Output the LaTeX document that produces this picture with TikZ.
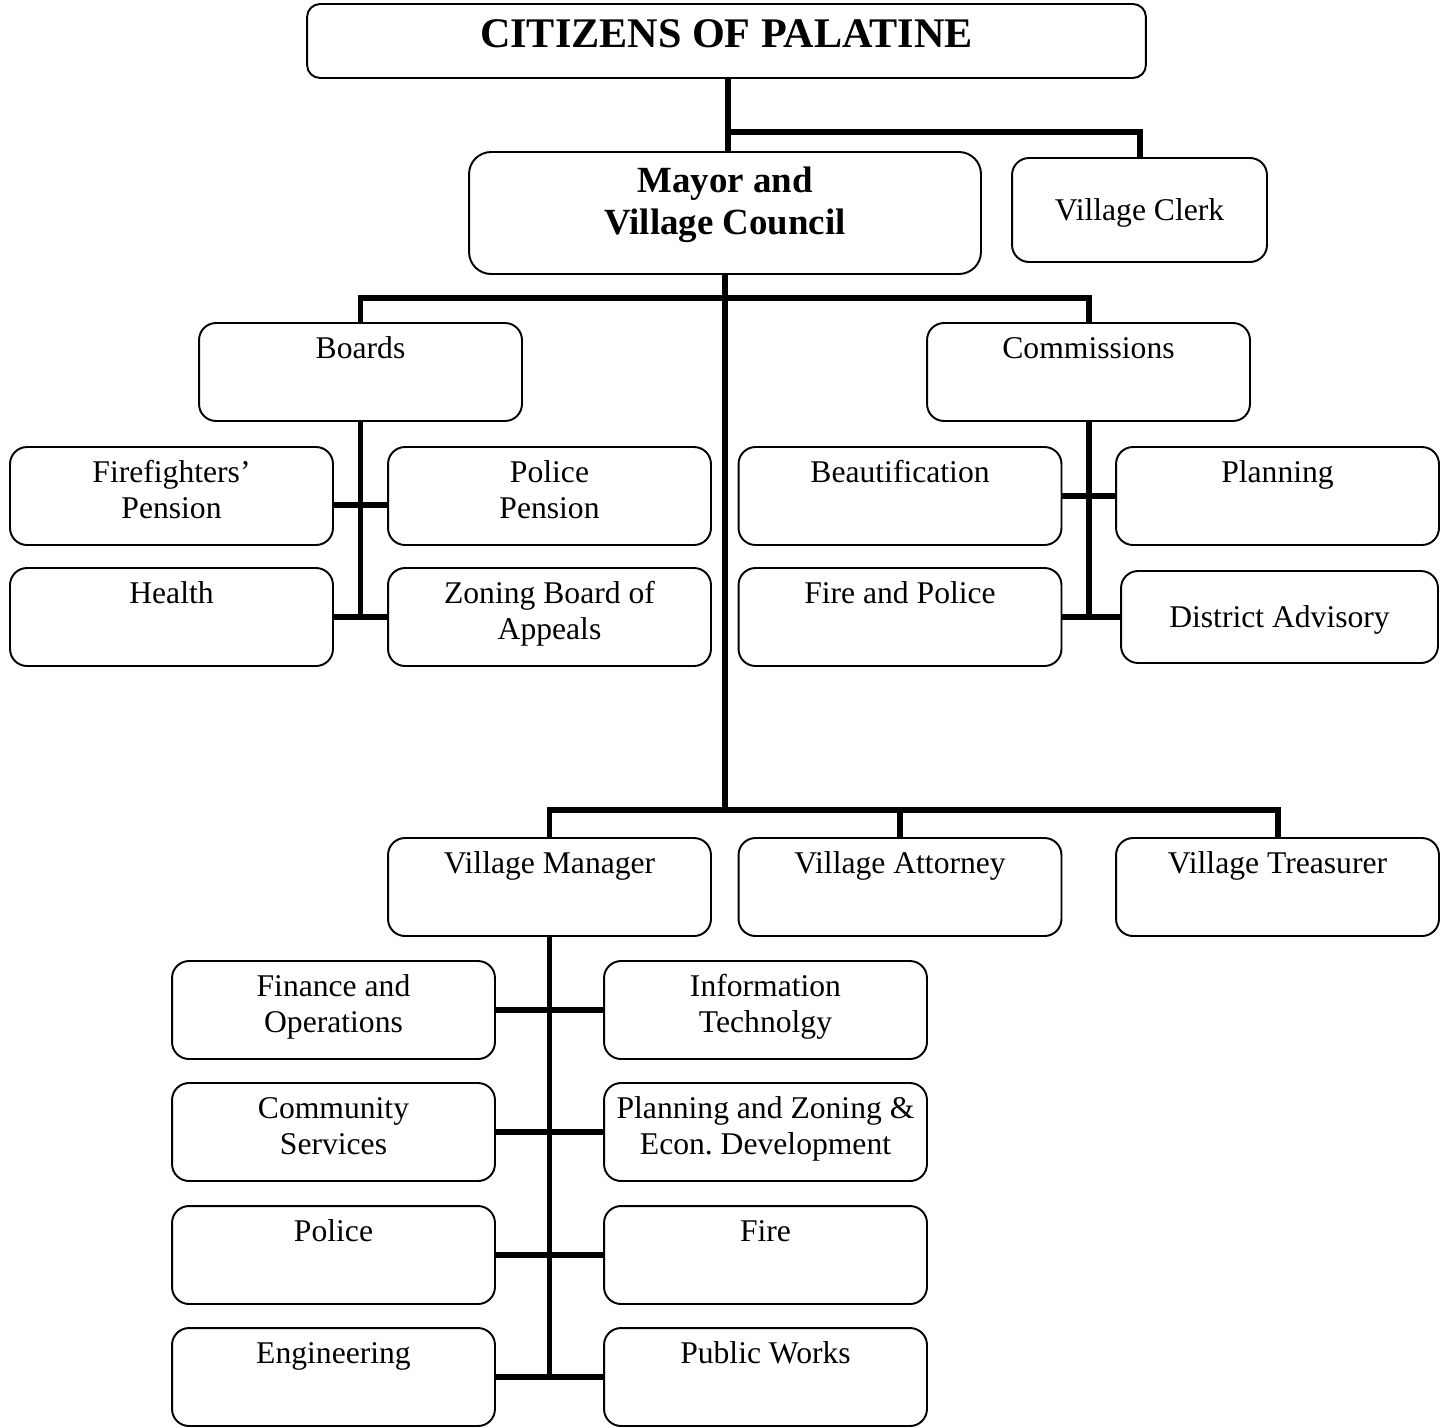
\documentclass[tikz,border=0pt]{standalone}
\usepackage{fontspec}
\setmainfont{Liberation Serif}
\usetikzlibrary{calc}

% text hung from the top of a standard box
\newcommand{\toptxt}[1]{\parbox[c][1.54cm][t]{6.3cm}{\centering\strut #1}}

\begin{document}
\begin{tikzpicture}[x=0.02cm,y=-0.02cm]
    \tikzset{%
      unit/.style={draw, rounded corners=0.34cm, line width=1.1pt,
        inner sep=0pt, minimum width=6.46cm, minimum height=1.96cm,
        font=\fontsize{18}{20.5}\selectfont},
      link/.style={line width=3.4pt},
    }
    \useasboundingbox (0,0) rectangle (1442,1427);

    % top of the chart
    \node[unit, rounded corners=0.26cm, minimum width=16.78cm, minimum height=1.48cm,
      font=\bfseries\fontsize{24}{28}\selectfont, text depth=0.28cm]
      (citizens) at (726.5,41) {CITIZENS OF PALATINE};
    \node[unit, rounded corners=0.44cm, minimum width=10.24cm, minimum height=2.44cm,
      font=\bfseries\fontsize{21}{23.8}\selectfont]
      (mayor) at (725,213) {\parbox[c][1.98cm][t]{9.8cm}{\centering\strut Mayor and\\Village Council}};
    \node[unit, minimum width=5.1cm, minimum height=2.08cm, text depth=0pt] (clerk) at (1139.5,210) {Village Clerk};

    % boards
    \node[unit] (boards) at (360.5,372) {\toptxt{Boards}};
    \node[unit] (ffpension) at (171.5,496) {\toptxt{Firefighters'\\Pension}};
    \node[unit] (ppension) at (549.5,496) {\toptxt{Police\\Pension}};
    \node[unit] (health) at (171.5,617) {\toptxt{Health}};
    \node[unit] (zba) at (549.5,617) {\toptxt{Zoning Board of\\Appeals}};

    % commissions
    \node[unit] (comm) at (1088.5,372) {\toptxt{Commissions}};
    \node[unit] (beaut) at (900,496) {\toptxt{Beautification}};
    \node[unit] (planning) at (1277.5,496) {\toptxt{Planning}};
    \node[unit] (firepol) at (900,617) {\toptxt{Fire and Police}};
    \node[unit, minimum width=6.34cm, minimum height=1.84cm, text depth=0pt] (district) at (1279.5,617) {District Advisory};

    % village officers
    \node[unit] (manager) at (549.5,887) {\toptxt{Village Manager}};
    \node[unit] (attorney) at (900,887) {\toptxt{Village Attorney}};
    \node[unit] (treasurer) at (1277.5,887) {\toptxt{Village Treasurer}};

    % departments
    \node[unit] (finance) at (333.5,1010) {\toptxt{Finance and\\Operations}};
    \node[unit] (infotech) at (765.5,1010) {\toptxt{Information\\Technolgy}};
    \node[unit] (community) at (333.5,1132) {\toptxt{Community\\Services}};
    \node[unit] (planzone) at (765.5,1132) {\toptxt{Planning and Zoning \&\\Econ.\ Development}};
    \node[unit] (police) at (333.5,1255) {\toptxt{Police}};
    \node[unit] (fire) at (765.5,1255) {\toptxt{Fire}};
    \node[unit] (engineering) at (333.5,1377) {\toptxt{Engineering}};
    \node[unit] (publicworks) at (765.5,1377) {\toptxt{Public Works}};

    % connectors
    \coordinate (J1) at (728,132);
    \coordinate (J2) at (725,298);
    \coordinate (J3) at (725,810);
    \draw [link] (citizens.south -| J1) -- (J1) -| (clerk.north);
    \draw [link] (J1) -- (mayor.north -| J1);
    \draw [link] (mayor.south) -- (J3);
    \draw [link] (boards.north) |- (J2) -| (comm.north);
    \draw [link] (manager.north) |- (J3) -| (treasurer.north);
    \draw [link] (attorney.north) -- (attorney.north |- J3);

    \draw [link] (boards.south) -- (boards.south |- health.east);
    \draw [link] ([yshift=-0.18cm]ffpension.east) -- ([yshift=-0.18cm]ppension.west);
    \draw [link] (health.east) -- (zba.west);

    \draw [link] (comm.south) -- (comm.south |- firepol.east);
    \draw [link] (beaut.east) -- (planning.west);
    \draw [link] (firepol.east) -- (district.west);

    \draw [link] (manager.south) -- (manager.south |- engineering.east);
    \draw [link] (finance.east) -- (infotech.west);
    \draw [link] (community.east) -- (planzone.west);
    \draw [link] (police.east) -- (fire.west);
    \draw [link] (engineering.east) -- (publicworks.west);
\end{tikzpicture}
\end{document}
